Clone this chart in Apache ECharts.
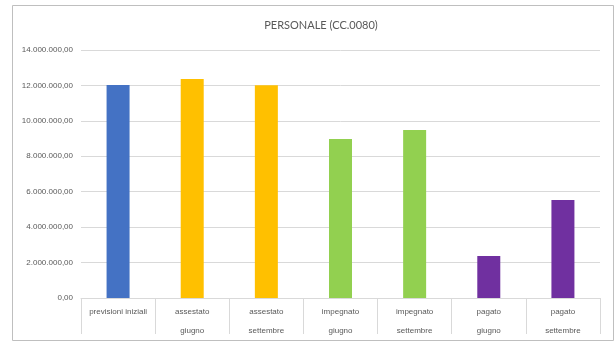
<!DOCTYPE html>
<html><head><meta charset="utf-8">
<script src="https://cdn.jsdelivr.net/npm/echarts@6/dist/echarts.min.js"></script>
<style>html,body{margin:0;padding:0;background:#fff}#c{width:614px;height:342px}</style>
</head><body><div id="c"></div>
<script>
const categories = ['previsioni iniziali', 'assestato\ngiugno', 'assestato\nsettembre', 'impegnato\ngiugno', 'impegnato\nsettembre', 'pagato\ngiugno', 'pagato\nsettembre'];
const values = [12020000, 12360000, 12010000, 8980000, 9490000, 2370000, 5530000];
const barColors = ['#4472C4', '#FFC000', '#FFC000', '#92D050', '#92D050', '#7030A0', '#7030A0'];
const titleText = 'PERSONALE (CC.0080)';

function fmt(v) {
  const s = Math.round(v).toString().replace(/\B(?=(\d{3})+(?!\d))/g, '.');
  return s + ',00';
}

const chart = echarts.init(document.getElementById('c'));
chart.setOption({
  animation: false,
  backgroundColor: '#fff',
  graphic: [{
    type: 'rect', left: 10, top: 3, shape: { width: 601, height: 335 },
    style: { fill: 'none', stroke: '#bfbfbf', lineWidth: 1 }, silent: true
  }],
  title: {
    text: titleText, left: 316, top: 15, textAlign: 'center',
    textStyle: { fontFamily: 'Lato, Liberation Sans, sans-serif', fontSize: 11, fontWeight: 'normal', color: '#595959' }
  },
  grid: { left: 81, right: 14, top: 50, bottom: 44, containLabel: false },
  xAxis: {
    type: 'category', data: categories,
    axisLine: { lineStyle: { color: '#d9d9d9' } },
    axisTick: { show: true, length: 36, lineStyle: { color: '#d9d9d9' } },
    axisLabel: { color: '#595959', fontSize: 8, fontFamily: 'Liberation Sans, sans-serif', lineHeight: 19, margin: 4, interval: 0 }
  },
  yAxis: {
    type: 'value', min: 0, max: 14000000, interval: 2000000,
    axisLine: { show: false }, axisTick: { show: false },
    splitLine: { lineStyle: { color: '#d9d9d9' } },
    axisLabel: { color: '#595959', fontSize: 8, fontFamily: 'Liberation Sans, sans-serif', margin: 8, formatter: fmt }
  },
  series: [{
    type: 'bar', barWidth: 23,
    data: values.map((v, i) => ({ value: v, itemStyle: { color: barColors[i] } }))
  }]
});
</script></body></html>
